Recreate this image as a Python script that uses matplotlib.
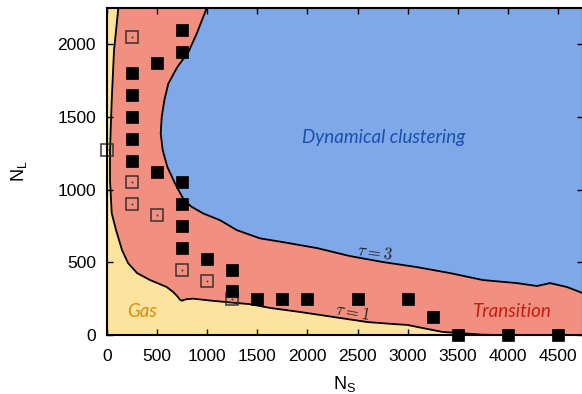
import matplotlib
matplotlib.use("Agg")
import matplotlib.pyplot as plt
from matplotlib.patches import Polygon

plt.rcParams['font.family'] = ['Liberation Sans', 'DejaVu Sans']
plt.rcParams['mathtext.fontset'] = 'cm'

# Phase boundaries (N_S, N_L)
gas_x = [113, 70, 47, 30, 30, 47, 90, 150, 210, 300, 430, 596, 660, 700, 728, 748,
         790, 860, 1030, 1260, 1430, 1630, 1930, 2260, 2600, 2850, 3000, 3200,
         3350, 3550, 3750, 3900, 4750]
gas_y = [2250, 1959, 1615, 1271, 1065, 838, 722, 584, 495, 426, 378, 330, 296, 268,
         243, 236, 246, 250, 237, 222, 212, 186, 158, 124, 89, 76, 69, 41,
         21, 12, 2, 0, 0]

clust_x = [995, 895, 812, 702, 612, 572, 546, 536, 556, 602, 679, 768, 845, 961,
           1128, 1294, 1527, 1757, 2096, 2425, 2754, 3094, 3423, 3752, 4092,
           4291, 4421, 4591, 4760]
clust_y = [2250, 2073, 1947, 1844, 1730, 1615, 1500, 1386, 1271, 1157, 1042, 928,
           882, 836, 790, 722, 665, 639, 598, 543, 502, 467, 426, 378, 357,
           337, 357, 330, 285]

# Simulated state points
clustered_x = [250, 250, 250, 250, 250, 500, 500, 750, 750, 750, 750, 750, 750,
               1000, 1250, 1250, 1500, 1750, 2000, 2500, 3000, 3250, 3500, 4000, 4500]
clustered_y = [1800, 1650, 1500, 1350, 1200, 1875, 1125, 2100, 1950, 1050, 900, 750,
               600, 525, 450, 300, 250, 250, 250, 250, 250, 125, 0, 0, 0]

gas_pts_x = [0, 250, 250, 250, 500, 750, 1000, 1250]
gas_pts_y = [1275, 2050, 1050, 900, 825, 450, 375, 250]

XMAX, YMAX = 4750, 2250
GAS_C = '#fce49e'
TRANS_C = '#f18f80'
CLUST_C = '#7ea8e8'

fig = plt.figure(figsize=(5.82, 3.94), dpi=100)
ax = fig.add_axes([107 / 582, 1 - 335 / 394, (583 - 107) / 582, (335 - 8) / 394])
ax.set_xlim(0, XMAX)
ax.set_ylim(0, YMAX)
ax.set_facecolor(TRANS_C)

gas_poly = list(zip(gas_x, gas_y)) + [(0, 0), (0, YMAX)]
ax.add_patch(Polygon(gas_poly, closed=True, facecolor=GAS_C, edgecolor='none', zorder=1))
clust_poly = list(zip(clust_x, clust_y)) + [(XMAX + 20, clust_y[-1]), (XMAX + 20, YMAX + 20), (clust_x[0], YMAX + 20)]
ax.add_patch(Polygon(clust_poly, closed=True, facecolor=CLUST_C, edgecolor='none', zorder=1))

ax.plot(gas_x, gas_y, color='black', lw=1.3, zorder=2, solid_joinstyle='round')
ax.plot(clust_x, clust_y, color='black', lw=1.3, zorder=2, solid_joinstyle='round')

ax.plot(gas_pts_x, gas_pts_y, linestyle='none', marker='s', markersize=8.2,
        markerfacecolor='none', markeredgecolor='#3b3030', markeredgewidth=1.1,
        zorder=3, clip_on=False)
ax.plot(gas_pts_x, gas_pts_y, linestyle='none', marker='s', markersize=1.2,
        markerfacecolor='#3b3030', markeredgecolor='none', zorder=3, clip_on=False)
ax.plot(clustered_x, clustered_y, linestyle='none', marker='s', markersize=8.2,
        markerfacecolor='black', markeredgecolor='black', markeredgewidth=0.5,
        zorder=4, clip_on=False)

lab_font = ['Lato', 'DejaVu Sans']
ax.text(2764, 1361, 'Dynamical clustering', color='#1b4fae', fontsize=13.5,
        style='italic', family=lab_font, ha='center', va='center', zorder=5)
ax.text(4042, 165, 'Transition', color='#c41e12', fontsize=13.5,
        style='italic', family=lab_font, ha='center', va='center', zorder=5)
ax.text(350, 165, 'Gas', color='#e08c0a', fontsize=13.5,
        style='italic', family=lab_font, ha='center', va='center', zorder=5)

ax.text(2675, 565, r'$\tau = \mathit{3}$', fontsize=12, color='#222222',
        rotation=-8, ha='center', va='center', zorder=5)
ax.text(2445, 158, r'$\tau = \mathit{1}$', fontsize=12, color='#222222',
        rotation=-10, ha='center', va='center', zorder=5)

ax.set_xticks(range(0, 5000, 500))
ax.set_yticks(range(0, 2500, 500))
ax.tick_params(direction='in', length=4, width=1, top=True, right=True,
               labelsize=12.5, colors='black')
ax.tick_params(axis='x', pad=10)
ax.tick_params(axis='y', pad=8)
for s in ax.spines.values():
    s.set_linewidth(1.5)
    s.set_zorder(6)

ax.set_xlabel(r'$\mathregular{N_S}$', fontsize=13, labelpad=7)
ax.set_ylabel(r'$\mathregular{N_L}$', fontsize=13, labelpad=20)

fig.savefig('out.png', dpi=100)
